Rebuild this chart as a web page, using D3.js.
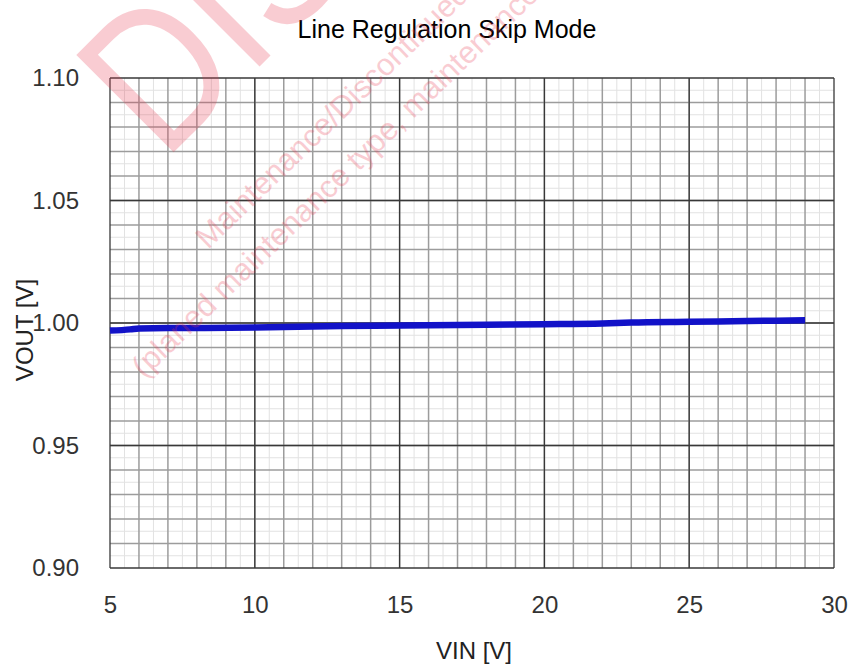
<!DOCTYPE html>
<html>
<head>
<meta charset="utf-8">
<style>
  body { margin: 0; background: #fff; }
  svg text { font-family: Arial, "Liberation Sans", sans-serif; }
  .tick-label { fill: #333; font-size: 24px; }
  .minor { stroke: #9c9c9c; stroke-width: 1.5px; }
  .half { stroke: #e2e2e2; stroke-width: 1px; }
  .major { stroke: #383838; stroke-width: 1.3px; }
  .curve { fill: none; stroke: #1212c8; stroke-width: 6.5px; }
  .wm { fill: #e8384f; opacity: 0.25; }
</style>
</head>
<body>
<svg id="chart" width="849" height="664"></svg>
<script src="https://cdn.jsdelivr.net/npm/d3@7"></script>
<script>
// values
var vin  = [5, 5.7, 6, 7, 8, 10, 13, 15, 18, 20, 22, 23, 25, 27, 29];
var vout = [0.9969, 0.9974, 0.9978, 0.9980, 0.9980, 0.9982, 0.9988, 0.9990, 0.9993, 0.9995, 0.9998, 1.0002, 1.0005, 1.0008, 1.0011];
var xTicks = [5, 10, 15, 20, 25, 30];
var yTicks = [0.90, 0.95, 1.00, 1.05, 1.10];
var title = "Line Regulation Skip Mode";
var xTitle = "VIN [V]";
var yTitle = "VOUT [V]";

var svg = d3.select("#chart");

var x = d3.scaleLinear().domain([5, 30]).range([110, 834]);
var y = d3.scaleLinear().domain([0.90, 1.10]).range([568, 78]);

var grid = svg.append("g");

// faint half steps
grid.selectAll(".hx").data(d3.range(5.5, 30, 1)).enter().append("line")
    .attr("class", "half")
    .attr("x1", function (d) { return x(d); }).attr("x2", function (d) { return x(d); })
    .attr("y1", y(0.90)).attr("y2", y(1.10));
grid.selectAll(".hy").data(d3.range(0, 20).map(function (i) { return 0.905 + i * 0.01; })).enter().append("line")
    .attr("class", "half")
    .attr("x1", x(5)).attr("x2", x(30))
    .attr("y1", function (d) { return y(d); }).attr("y2", function (d) { return y(d); });

// minor grid
grid.selectAll(".mx").data(d3.range(6, 30, 1)).enter().append("line")
    .attr("class", "minor")
    .attr("x1", function (d) { return x(d); }).attr("x2", function (d) { return x(d); })
    .attr("y1", y(0.90)).attr("y2", y(1.10));
grid.selectAll(".my").data(d3.range(1, 20).map(function (i) { return 0.90 + i * 0.01; })).enter().append("line")
    .attr("class", "minor")
    .attr("x1", x(5)).attr("x2", x(30))
    .attr("y1", function (d) { return y(d); }).attr("y2", function (d) { return y(d); });

// major grid
grid.selectAll(".gx").data(xTicks).enter().append("line")
    .attr("class", "major")
    .attr("x1", function (d) { return x(d); }).attr("x2", function (d) { return x(d); })
    .attr("y1", y(0.90)).attr("y2", y(1.10));
grid.selectAll(".gy").data(yTicks).enter().append("line")
    .attr("class", "major")
    .attr("x1", x(5)).attr("x2", x(30))
    .attr("y1", function (d) { return y(d); }).attr("y2", function (d) { return y(d); });

// axes, labels only
var xAxis = svg.append("g")
    .attr("transform", "translate(0," + y(0.90) + ")")
    .call(d3.axisBottom(x).tickValues(xTicks).tickSize(0).tickPadding(0).tickFormat(d3.format("d")));
xAxis.select(".domain").remove();
xAxis.selectAll("text").attr("class", "tick-label").attr("y", 45).attr("dy", null).attr("font-size", null).attr("font-family", null);

var yAxis = svg.append("g")
    .attr("transform", "translate(79,0)")
    .call(d3.axisLeft(y).tickValues(yTicks).tickSize(0).tickPadding(0).tickFormat(d3.format(".2f")));
yAxis.select(".domain").remove();
yAxis.selectAll("text").attr("class", "tick-label").attr("x", 0).attr("font-size", null).attr("font-family", null);

// curve
var line = d3.line()
    .curve(d3.curveMonotoneX)
    .x(function (d, i) { return x(vin[i]); })
    .y(function (d) { return y(d); });

svg.append("path")
    .datum(vout)
    .attr("class", "curve")
    .attr("d", line);

// titles
svg.append("text")
    .attr("x", 447).attr("y", 38)
    .attr("text-anchor", "middle")
    .style("font-size", "25px").style("fill", "#000")
    .text(title);

svg.append("text")
    .attr("x", 474).attr("y", 659)
    .attr("text-anchor", "middle")
    .style("font-size", "24px").style("fill", "#222")
    .text(xTitle);

svg.append("text")
    .attr("transform", "translate(33,330) rotate(-90)")
    .attr("text-anchor", "middle")
    .style("font-size", "24px").style("fill", "#222")
    .text(yTitle);

// watermark
var wm = svg.append("g");
wm.append("text")
    .attr("class", "wm")
    .attr("transform", "translate(164,162) rotate(-45) scale(0.83,1)")
    .style("font-size", "200px")
    .text("DISCONTINUED");
wm.append("text")
    .attr("class", "wm")
    .attr("transform", "translate(208,250) rotate(-44)")
    .style("font-size", "31px")
    .text("Maintenance/Discontinued includes following four Product lifecycle stage.");
wm.append("text")
    .attr("class", "wm")
    .attr("transform", "translate(144,379) rotate(-44)")
    .style("font-size", "31px")
    .text("(planed maintenance type, maintenance type, planed discontinued typed, discontinued type)");
</script>
</body>
</html>
